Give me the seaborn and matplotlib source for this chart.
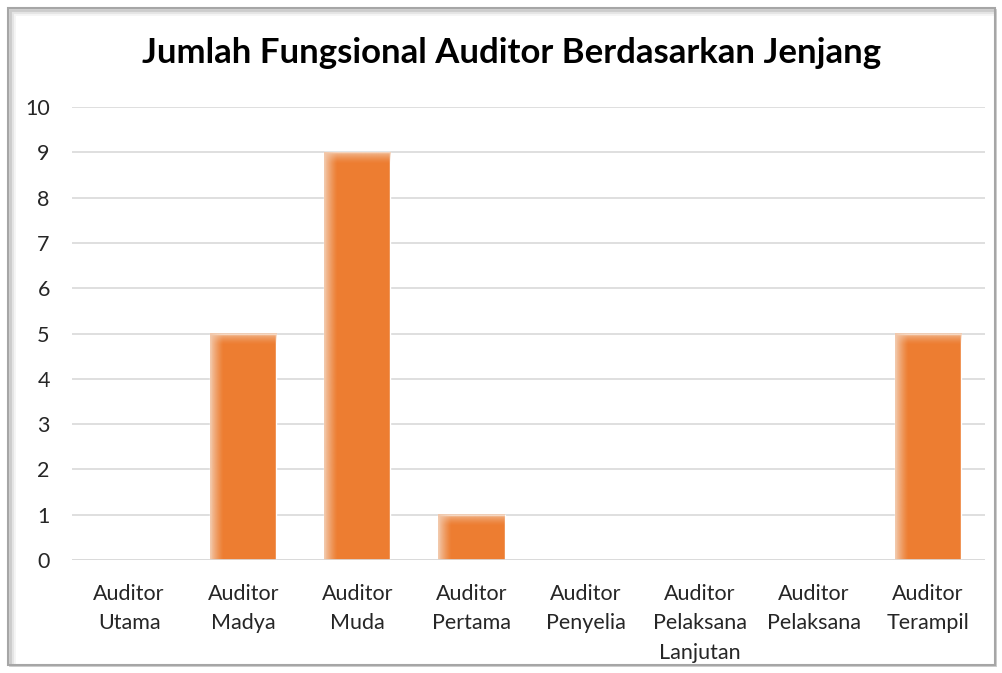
import matplotlib
matplotlib.use("Agg")
import matplotlib.pyplot as plt
import seaborn as sns
import numpy as np
import pandas as pd
from matplotlib.patches import Rectangle

categories = ["Auditor\nUtama", "Auditor\nMadya", "Auditor\nMuda", "Auditor\nPertama",
              "Auditor\nPenyelia", "Auditor\nPelaksana\nLanjutan", "Auditor\nPelaksana",
              "Auditor\nTerampil"]
values = [0, 5, 9, 1, 0, 0, 0, 5]
yticks = list(range(0, 11))
title = "Jumlah Fungsional Auditor Berdasarkan Jenjang"

sns.set_theme(style="white")
plt.rcParams['font.family'] = ['Lato', 'DejaVu Sans']

W, H = 1003, 673
fig = plt.figure(figsize=(W / 100, H / 100), dpi=100)
fig.patch.set_facecolor("white")

# frame with soft inner shadow
for off, c in [(6, "#f4f4f4"), (4, "#e4e4e4"), (2, "#cccccc")]:
    fig.patches.append(Rectangle(((8 + off) / W, 1 - 665 / H),
                                 (987 - off) / W, (657 - off) / H,
                                 transform=fig.transFigure, fill=False,
                                 edgecolor=c, lw=2, zorder=0))
fig.patches.append(Rectangle((8 / W, 1 - 665 / H), 987 / W, 657 / H,
                             transform=fig.transFigure, fill=False,
                             edgecolor="#a6a6a6", lw=1.5, zorder=0))

ax = fig.add_axes([72 / W, 1 - 560 / H, (985 - 72) / W, (560 - 107) / H])
df = pd.DataFrame({"cat": categories, "val": values})
sns.barplot(data=df, x="cat", y="val", color="#ED7D31", saturation=1, width=0.58, ax=ax, zorder=3)

# soft edge on left and top of bars
n = 60
xs = np.linspace(0, 1, n)
for p in ax.patches:
    x0, y0 = p.get_x(), p.get_y()
    w, h = p.get_width(), p.get_height()
    if h <= 0:
        continue
    lt = np.ones((1, n, 4))
    lt[..., :3] = np.array([242, 200, 170]) / 255
    lt[..., 3] = np.clip(1 - xs / 0.2, 0, 1) ** 1.3
    ax.imshow(lt, extent=[x0, x0 + w, y0, y0 + h], aspect="auto", zorder=4,
              interpolation="bilinear")
    tp = np.ones((n, 1, 4))
    tp[..., :3] = np.array([242, 200, 170]) / 255
    tp[..., 3] = (np.clip(1 - xs / 1.0, 0, 1) ** 1.5)[:, None] * 0.85
    th = min(0.25, h)
    ax.imshow(tp, extent=[x0, x0 + w, y0 + h - th, y0 + h], aspect="auto", zorder=4,
              interpolation="bilinear")

ax.set_xlim(-0.5, len(categories) - 0.5)
ax.set_ylim(0, 10)
ax.set_yticks(yticks)
ax.yaxis.grid(True, color="#d9d9d9", lw=1.2, zorder=0)
ax.set_axisbelow(True)
for s in ax.spines.values():
    s.set_visible(False)
ax.axhline(0, color="#d9d9d9", lw=1.2, zorder=5)
ax.set_xlabel("")
ax.set_ylabel("")
ax.tick_params(axis="both", length=0, labelsize=15.5, colors="#262626")
ax.tick_params(axis="y", pad=16)
ax.tick_params(axis="x", pad=17)
for t in ax.get_yticklabels():
    t.set_horizontalalignment("right")
for t in ax.get_xticklabels():
    t.set_linespacing(1.6)
ax.set_facecolor("none")

fig.text(512 / W, 1 - 53 / H, title, ha="center", va="center",
         fontsize=25, fontweight="bold", color="black")

fig.savefig("out.png", dpi=100)
